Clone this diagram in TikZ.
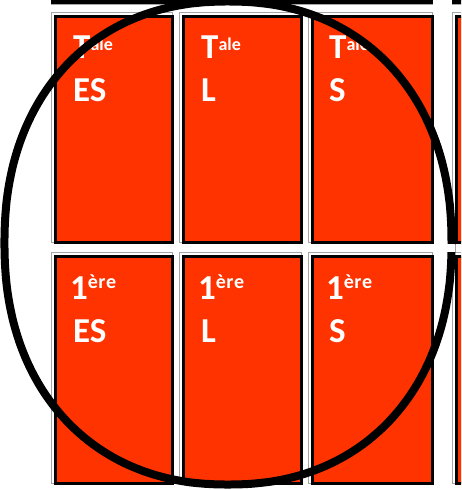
\documentclass[tikz,border=0pt]{standalone}
\usepackage{fontspec}
\setmainfont{Carlito}
\definecolor{boxorange}{HTML}{FF3300}
\begin{document}
\begin{tikzpicture}[x=1pt,y=-1pt,
  cell/.style={draw=black, line width=3pt, fill=boxorange, inner sep=0pt, anchor=north west},
  rim/.style={draw=gray!70, line width=1pt},
  lbl/.style={text=white, font=\bfseries\fontsize{35}{35}\selectfont, inner sep=0pt, anchor=base west},
  ring/.style={draw=black, line width=8pt, line join=round},
  ]
\useasboundingbox (0,0) rectangle (461,490);
\clip (0,0) rectangle (461,490);
% boxes of the row above (only bottom border visible)
\fill[black] (51,-5) rectangle (433,4);
\draw[rim] (51,4.5) -- (433,4.5);
\fill[black] (452,-5) rectangle (470,4);
\draw[rim] (452,4.5) -- (470,4.5);
% boxes
\foreach \n/\l/\r in {a/51/173, b/179/302, c/308/433, d/452/580} {
  \foreach \m/\t/\b in {1/12/243, 2/252/484} {
    \draw[rim] (\l+0.5,\t+0.5) rectangle (\r-0.5,\b-0.5);
    \node[cell, minimum width={\r-\l-5}, minimum height={\b-\t-5}] (box\n\m) at (\l+2.5,\t+2.5) {};
  }
}
% labels
\foreach \n/\x/\s in {a/73/ES, b/201/L, c/329/S} {
  \node[lbl] (top\n) at (\x,58) {T\raisebox{8pt}{\fontsize{18}{18}\selectfont ale}};
  \node[lbl] (topsub\n) at (\x,101) {\s};
  \node[lbl] (bot\n) at (\x-3,299) {1\raisebox{11pt}{\fontsize{20}{20}\selectfont è\kern0.5pt r\kern0.5pt e}};
  \node[lbl] (botsub\n) at (\x,342) {\s};
}
% ring (slightly fuller than an ellipse)
\draw[ring] plot[domain=0:360, samples=240, smooth]
  ({228 + 223.5*sign(cos(\x))*pow(abs(cos(\x)),0.91)},
   {243 + 241.5*sign(sin(\x))*pow(abs(sin(\x)),0.91)}) -- cycle;
% white bar between rows
\fill[white] (40,243.5) rectangle (455,251.5);
\end{tikzpicture}
\end{document}
